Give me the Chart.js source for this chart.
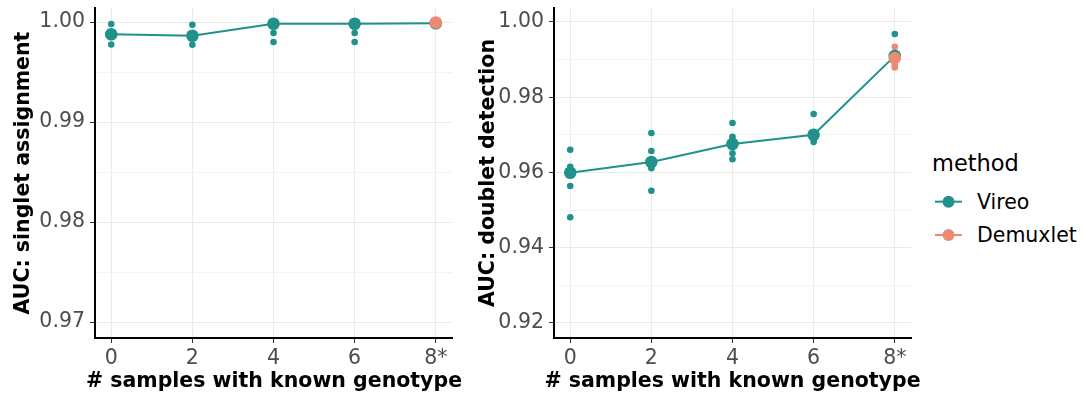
<!DOCTYPE html>
<html><head><meta charset="utf-8">
<script src="https://cdn.jsdelivr.net/npm/chart.js@4.4.1/dist/chart.umd.min.js"></script>
<style>
html,body{margin:0;padding:0;background:#fff;}
body{width:1083px;height:396px;position:relative;overflow:hidden;font-family:"DejaVu Sans",sans-serif;}
.cv{position:absolute;top:0;width:470px;height:396px;}
#w1{left:0;}
#w2{left:459px;}
.lg{position:absolute;white-space:nowrap;color:#000;font-family:"DejaVu Sans",sans-serif;}
#legTitle{left:932px;top:149px;font-size:22.5px;line-height:28px;}
#lab1{left:977px;top:189px;font-size:20.5px;line-height:26px;}
#lab2{left:977px;top:222px;font-size:20.5px;line-height:26px;}
#keys{position:absolute;left:930px;top:185px;}
.xt{position:absolute;top:368px;width:500px;text-align:center;font-weight:bold;font-size:20.5px;line-height:24px;color:#000;white-space:nowrap;font-family:"DejaVu Sans",sans-serif;}
#xt1{left:24px;}
#xt2{left:482.5px;}
</style></head><body>
<div class="cv" id="w1"><canvas id="c1" width="470" height="396"></canvas></div>
<div class="cv" id="w2"><canvas id="c2" width="470" height="396"></canvas></div>
<div class="xt" id="xt1"></div>
<div class="xt" id="xt2"></div>
<div class="lg" id="legTitle">method</div>
<svg id="keys" width="40" height="70">
  <line x1="5" y1="16.7" x2="32" y2="16.7" stroke="#21918c" stroke-width="2"/>
  <circle cx="18.5" cy="16.7" r="6" fill="#21918c"/>
  <line x1="5" y1="50" x2="32" y2="50" stroke="#ec8a72" stroke-width="2"/>
  <circle cx="18.5" cy="50" r="6" fill="#ec8a72"/>
</svg>
<div class="lg" id="lab1">Vireo</div>
<div class="lg" id="lab2">Demuxlet</div>
<script>
// ---- data ----
const xPositions = [0, 2, 4, 6, 8];
const xTickLabels = ['0', '2', '4', '6', '8*'];
const xAxisTitle = '# samples with known genotype';
const singletMajorTicks = [0.97, 0.98, 0.99, 1.00];
const singletMinorTicks = [0.975, 0.985, 0.995];
const doubletMajorTicks = [0.92, 0.94, 0.96, 0.98, 1.00];
const doubletMinorTicks = [0.93, 0.95, 0.97, 0.99];

// singlet assignment AUC
const vireoSingletMean = [0.99877, 0.99863, 0.99983, 0.99983, 0.99988];
const vireoSingletRunX = [0, 0, 0, 2, 2, 2, 4, 4, 4, 6, 6, 6, 8];
const vireoSingletRunY = [0.9998, 0.9988, 0.99775, 0.99973, 0.9986, 0.99773, 0.99990, 0.99890, 0.99800, 0.99990, 0.99890, 0.99800, 0.99990];
const demuxSingletMeanX = [8];
const demuxSingletMean = [0.99995];
const demuxSingletRunX = [8, 8, 8];
const demuxSingletRunY = [0.99995, 0.99990, 1.00000];

// doublet detection AUC
const vireoDoubletMean = [0.95995, 0.96279, 0.96757, 0.97004, 0.99100];
const vireoDoubletRunX = [0, 0, 0, 0, 0, 2, 2, 2, 2, 2, 4, 4, 4, 4, 4, 6, 6, 6, 8, 8];
const vireoDoubletRunY = [0.96606, 0.96154, 0.96000, 0.95641, 0.94809, 0.97050, 0.96571, 0.96199, 0.96111, 0.95516, 0.97316, 0.96951, 0.96870, 0.96510, 0.96351, 0.97555, 0.96900, 0.96810, 0.99681, 0.99120];
const demuxDoubletMeanX = [8];
const demuxDoubletMean = [0.99040];
const demuxDoubletRunX = [8, 8, 8, 8, 8];
const demuxDoubletRunY = [0.99343, 0.99020, 0.98930, 0.98860, 0.98790];

document.getElementById('xt1').textContent = xAxisTitle;
document.getElementById('xt2').textContent = xAxisTitle;

// ---- styling ----
const TEAL = '#21918c';
const SALMON = '#ec8a72';
const FONT = 'DejaVu Sans';

function pts(xs, ys) { return xs.map((x, i) => ({x: x, y: ys[i]})); }

function buildDatasets(vMean, vRunX, vRunY, dMeanX, dMean, dRunX, dRunY) {
  return [
    {type: 'scatter', data: pts(dMeanX, dMean), pointRadius: 6.3, pointBackgroundColor: SALMON, pointBorderWidth: 0, order: 0},
    {type: 'line', data: pts(xPositions, vMean), borderColor: TEAL, borderWidth: 2, pointRadius: 6.3, pointBackgroundColor: TEAL, pointBorderWidth: 0, tension: 0, fill: false, order: 1},
    {type: 'scatter', data: pts(dRunX, dRunY), pointRadius: 3.3, pointBackgroundColor: SALMON, pointBorderWidth: 0, order: 2},
    {type: 'scatter', data: pts(vRunX, vRunY), pointRadius: 3.3, pointBackgroundColor: TEAL, pointBorderWidth: 0, order: 3}
  ];
}

function makeChart(id, yMin, yMax, major, minor, yTitle, yTitlePad, datasets) {
  const isMajor = v => major.some(m => Math.abs(m - v) < 1e-9);
  const allY = major.concat(minor).sort((a, b) => a - b);
  return new Chart(document.getElementById(id), {
    type: 'scatter',
    data: {datasets: datasets},
    options: {
      responsive: false,
      animation: false,
      events: [],
      layout: {padding: {top: 8, right: 18, bottom: 0, left: 0}},
      plugins: {legend: {display: false}, tooltip: {enabled: false}},
      scales: {
        x: {
          type: 'linear', min: -0.4, max: 8.4,
          afterBuildTicks: s => { s.ticks = xPositions.map(v => ({value: v})); },
          afterFit: s => { s.height = 58; s.paddingLeft = 0; s.paddingRight = 0; },
          ticks: {
            callback: v => xTickLabels[xPositions.indexOf(v)],
            color: '#4d4d4d', font: {family: FONT, size: 20.5}, padding: 3, maxRotation: 0, autoSkip: false
          },
          grid: {color: '#ebebeb', lineWidth: 1, tickColor: '#333333', tickLength: 5, tickWidth: 1},
          border: {display: true, color: '#000', width: 2},
          title: {display: false}
        },
        y: {
          type: 'linear', min: yMin, max: yMax,
          afterBuildTicks: s => { s.ticks = allY.map(v => ({value: v})); },
          afterFit: s => { s.width = 95; s.paddingTop = 0; s.paddingBottom = 0; },
          ticks: {
            callback: v => isMajor(v) ? v.toFixed(2) : '',
            color: '#4d4d4d', font: {family: FONT, size: 20.5}, padding: 5, autoSkip: false
          },
          grid: {
            color: c => (c.tick && isMajor(c.tick.value)) ? '#ebebeb' : '#f4f4f4',
            lineWidth: 1,
            tickColor: c => (c.tick && isMajor(c.tick.value)) ? '#333333' : 'rgba(0,0,0,0)',
            tickLength: 5, tickWidth: 1
          },
          border: {display: true, color: '#000', width: 2},
          title: {display: true, text: yTitle, color: '#000',
                  font: {family: FONT, size: 20.5, weight: 'bold'}, padding: {top: yTitlePad, bottom: 0}}
        }
      }
    }
  });
}

makeChart('c1', 0.9684, 1.0014, singletMajorTicks, singletMinorTicks, 'AUC: singlet assignment', 11.7,
  buildDatasets(vireoSingletMean, vireoSingletRunX, vireoSingletRunY, demuxSingletMeanX, demuxSingletMean, demuxSingletRunX, demuxSingletRunY));
makeChart('c2', 0.91601, 1.00372, doubletMajorTicks, doubletMinorTicks, 'AUC: doublet detection', 17.7,
  buildDatasets(vireoDoubletMean, vireoDoubletRunX, vireoDoubletRunY, demuxDoubletMeanX, demuxDoubletMean, demuxDoubletRunX, demuxDoubletRunY));
</script>
</body></html>
